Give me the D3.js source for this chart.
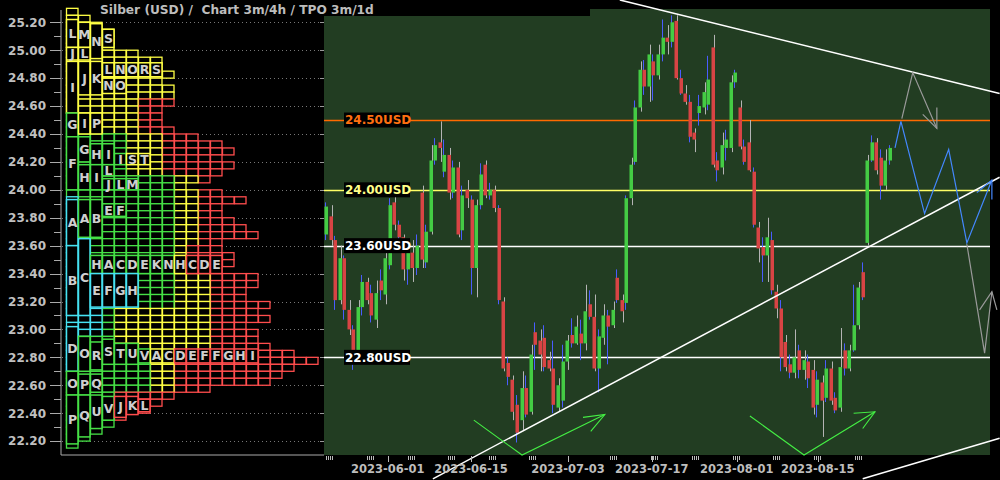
<!DOCTYPE html>
<html><head><meta charset="utf-8">
<script src="https://cdn.jsdelivr.net/npm/d3@7"></script>
<style>body{margin:0;background:#000}svg{display:block}</style>
</head><body><svg id="c" width="1000" height="480"></svg>
<script>
// ---------------- DATA ----------------
const title = "Silber (USD) /  Chart 3m/4h / TPO 3m/1d";

const opens  = [23.68,23.81,23.64,23.21,23.51,23.14,23.00,22.85,23.16,23.34,23.26,23.07,23.35,23.25,23.46,23.91,23.75,23.66,23.43,23.55,23.44,23.98,23.48,23.70,24.21,24.34,24.13,24.25,23.98,24.16,23.71,24.00,23.93,23.44,23.89,24.18,23.96,24.00,23.87,23.20,22.76,22.64,22.46,22.35,22.58,22.41,22.98,22.92,22.94,22.78,22.72,22.44,22.49,22.77,22.96,22.90,22.97,22.90,23.18,23.09,22.72,22.94,23.10,23.03,23.37,23.21,23.19,23.94,24.20,24.59,24.86,24.74,24.92,24.82,24.97,25.09,25.06,25.21,24.80,24.69,24.63,24.41,24.55,24.59,24.61,25.02,24.21,24.16,24.30,24.30,24.77,24.59,24.31,24.34,24.13,23.73,23.59,23.53,23.64,23.27,23.15,22.91,22.75,22.69,22.85,22.71,22.77,22.71,22.46,22.62,22.51,22.72,22.51,22.44,22.85,22.72,22.85,23.03,23.41,23.62,24.21,24.34,24.23,24.03,24.21];
const highs  = [23.91,23.89,23.67,23.60,23.53,23.21,23.03,23.21,23.39,23.37,23.32,23.35,23.43,23.57,23.94,23.96,23.78,23.68,23.60,23.64,23.68,24.03,23.75,24.32,24.37,24.49,24.36,24.30,24.21,24.20,24.03,24.07,23.96,23.93,24.19,24.21,24.05,24.03,23.89,23.23,22.80,22.67,22.53,22.70,22.67,22.89,23.05,23.00,23.03,22.84,22.92,22.65,22.89,22.96,23.08,23.10,23.07,23.32,23.28,23.25,23.00,23.18,23.14,23.20,23.43,23.25,23.96,24.23,24.64,24.92,24.93,25.04,24.97,25.04,25.22,25.18,25.25,25.25,24.86,24.75,24.68,24.44,24.68,24.77,24.96,25.11,24.27,24.41,24.43,24.82,24.86,24.64,24.36,24.50,24.16,23.77,23.66,23.80,23.70,23.32,23.21,22.96,22.82,23.00,22.89,22.85,22.82,22.78,22.70,22.67,22.78,22.77,22.55,23.01,22.90,22.89,23.32,23.34,23.48,24.25,24.39,24.37,24.29,24.29,24.32];
const lows   = [23.64,23.60,23.14,23.18,23.07,22.96,22.71,22.84,23.10,23.18,23.05,23.01,23.21,23.18,23.43,23.71,23.60,23.35,23.32,23.34,23.39,23.44,23.44,23.68,24.18,24.20,24.09,23.93,23.94,23.66,23.64,23.87,23.25,23.23,23.86,23.94,23.93,23.84,23.18,22.70,22.60,22.35,22.19,22.28,22.37,22.39,22.71,22.70,22.70,22.70,22.40,22.41,22.44,22.71,22.87,22.89,22.78,22.85,23.07,22.70,22.55,22.89,22.75,23.01,23.19,23.05,23.14,23.89,24.18,24.56,24.68,24.63,24.64,24.79,24.92,24.97,25.02,24.79,24.68,24.61,24.34,24.27,24.46,24.54,24.57,24.16,24.06,24.11,24.21,24.27,24.73,24.29,24.18,24.13,23.73,23.48,23.34,23.34,23.25,23.08,22.70,22.70,22.65,22.65,22.65,22.64,22.58,22.39,22.37,22.23,22.48,22.46,22.40,22.41,22.67,22.70,22.84,23.00,23.21,23.60,24.20,24.11,23.93,24.00,24.18];
const closes = [23.88,23.64,23.21,23.51,23.14,23.00,22.85,23.16,23.34,23.21,23.10,23.26,23.28,23.51,23.89,23.75,23.66,23.43,23.55,23.44,23.60,23.50,23.70,24.21,24.32,24.30,24.25,23.98,24.16,23.68,23.96,23.94,23.44,23.89,24.11,23.96,24.00,23.87,23.21,22.72,22.66,22.41,22.26,22.58,22.39,22.82,22.89,22.82,22.73,22.72,22.46,22.60,22.77,22.92,22.90,23.02,22.90,23.13,23.09,22.72,22.95,23.10,23.02,23.14,23.21,23.13,23.94,24.18,24.59,24.86,24.74,24.97,24.82,24.97,25.09,25.06,25.20,24.80,24.69,24.63,24.38,24.36,24.60,24.70,24.79,24.18,24.14,24.32,24.36,24.77,24.84,24.31,24.20,24.14,23.75,23.58,23.53,23.66,23.28,23.15,22.80,22.73,22.69,22.80,22.71,22.78,22.65,22.44,22.64,22.49,22.72,22.49,22.42,22.73,22.72,22.85,23.03,23.30,23.23,24.21,24.34,24.14,24.03,24.21,24.30];

const dateLabels   = ["2023-06-01","2023-06-15","2023-07-03","2023-07-17","2023-08-01","2023-08-15"];
const dateLabelIdx = [13.6, 31.9, 53.2, 71.6, 90.3, 108.1];
const tickGroupIdx = [0, 9, 18, 26.8, 35.8, 44.6, 62.4, 71.4, 80.4, 89.5, 98.2, 107.2, 116.3];

const priceTicks = [22.2,22.4,22.6,22.8,23.0,23.2,23.4,23.6,23.8,24.0,24.2,24.4,24.6,24.8,25.0,25.2];

const levelPrices = [24.50, 24.00, 23.60, 22.80];
const levelLabels = ["24.50USD","24.00USD","23.60USD","22.80USD"];
const levelColors = ["#ff6a00","#ffff66","#ffffff","#ffffff"];
const levelText   = ["#ff7010","#ffff88","#ffffff","#ffffff"];

// TPO profile rows (row low price) and number of cells in each row
const tpoRowLow = [25.25,25.20,25.15,25.10,25.05,25.00,24.95,24.90,24.85,24.80,24.75,24.70,24.65,24.60,24.55,24.50,24.45,24.40,24.35,24.30,24.25,24.20,24.15,24.10,24.05,24.00,23.95,23.90,23.85,23.80,23.75,23.70,23.65,23.60,23.55,23.50,23.45,23.40,23.35,23.30,23.25,23.20,23.15,23.10,23.05,23.00,22.95,22.90,22.85,22.80,22.75,22.70,22.65,22.60,22.55,22.50,22.45,22.40,22.35,22.30,22.25,22.20,22.15];
const tpoRowCount = [1,2,3,4,4,4,6,8,8,9,8,9,9,9,8,8,8,9,11,13,14,13,14,13,12,10,13,15,13,13,14,15,16,13,13,14,14,13,16,16,15,15,17,16,17,15,16,16,17,19,21,19,18,17,12,9,8,7,5,4,3,2,1];

// colour blocks of the profile: [colFrom, colTo, priceLow, priceHigh, period colour]
const tpoZones = [
 [0,0,22.70,23.93,"cyan"],[1,1,22.95,23.65,"cyan"],[2,2,22.95,23.40,"cyan"],[3,5,23.13,23.40,"cyan"],
 [6,30,24.55,24.65,"red"],[0,30,24.55,25.40,"yellow"],[0,0,23.93,24.55,"green"],
 [1,5,24.40,24.55,"yellow"],[1,4,24.08,24.40,"green"],[5,7,24.08,24.40,"yellow"],
 [0,8,23.93,24.08,"green"],[1,8,23.40,23.93,"green"],[9,9,23.40,23.60,"yellow"],[9,10,23.60,24.08,"yellow"],
 [2,8,23.13,23.40,"green"],[9,11,23.05,23.40,"yellow"],[3,3,22.85,23.13,"green"],[4,11,22.85,23.13,"yellow"],
 [0,0,22.00,22.70,"green"],[1,6,22.55,22.95,"green"],[7,8,22.55,22.85,"yellow"],[1,3,22.00,22.55,"green"]
];

// lettered TPO boxes: [letter, column, priceTop, priceBottom]
const tpoLetters = [
 ["L",0,25.22,25.02],["M",1,25.20,25.02],["N",2,25.19,24.94],["S",3,25.15,25.02],
 ["J",0,25.02,24.93],["L",1,25.02,24.93],
 ["I",0,24.92,24.55],["J",1,24.92,24.68],["K",2,24.92,24.68],
 ["L",3,24.91,24.81],["N",4,24.91,24.81],["O",5,24.91,24.81],["R",6,24.91,24.81],["S",7,24.91,24.81],
 ["N",3,24.80,24.69],["O",4,24.80,24.69],
 ["G",0,24.55,24.38],["I",1,24.55,24.40],["P",2,24.55,24.40],
 ["G",1,24.38,24.20],["H",2,24.33,24.18],["I",3,24.33,24.18],["I",4,24.26,24.18],["S",5,24.26,24.18],["T",6,24.26,24.18],
 ["F",0,24.38,24.00],["H",1,24.18,24.00],["I",2,24.18,24.00],["L",3,24.18,24.10],
 ["J",3,24.08,24.00],["L",4,24.08,24.00],["M",5,24.08,24.00],
 ["A",0,23.93,23.60],["A",1,23.93,23.66],["B",2,23.93,23.66],["E",3,23.90,23.81],["F",4,23.90,23.81],
 ["B",0,23.60,23.10],["C",1,23.65,23.10],
 ["H",2,23.53,23.40],["A",3,23.53,23.40],["C",4,23.53,23.40],["D",5,23.53,23.40],["E",6,23.53,23.40],["K",7,23.53,23.40],["N",8,23.53,23.40],["H",9,23.53,23.40],["C",10,23.53,23.40],["D",11,23.53,23.40],["E",12,23.53,23.40],
 ["E",2,23.40,23.16],["F",3,23.40,23.16],["G",4,23.40,23.16],["H",5,23.40,23.16],
 ["D",0,23.02,22.70],["O",1,22.95,22.70],["R",2,22.91,22.71],["S",3,22.93,22.75],["T",4,22.90,22.75],["U",5,22.90,22.75],
 ["V",6,22.86,22.76],["A",7,22.86,22.76],["C",8,22.86,22.76],["D",9,22.86,22.76],["E",10,22.86,22.76],["F",11,22.86,22.76],["F",12,22.86,22.76],["G",13,22.86,22.76],["H",14,22.86,22.76],["I",15,22.86,22.76],
 ["O",0,22.70,22.53],["P",1,22.68,22.53],["Q",2,22.68,22.55],
 ["P",0,22.53,22.18],["Q",1,22.53,22.23],["U",2,22.53,22.29],["V",3,22.52,22.35],
 ["J",4,22.52,22.37],["K",5,22.52,22.39],["L",6,22.50,22.41]
];

// drawn annotations in (candle index, price)
const trendUpper  = [[64.6,25.36],[148.1,24.69]];
const trendLower  = [[23.5,21.93],[148.1,24.09]];
const trendBottom = [[118.0,21.93],[148.1,22.22]];
const blueZig   = [[125.1,24.30],[126.4,24.49],[131.6,23.83],[136.9,24.29],[140.9,23.62],[146.4,24.07]];
const blueHead  = [[143.1,23.98],[146.4,24.07],[146.4,23.93]];
const grayZigTop  = [[126.6,24.51],[129.0,24.84],[134.3,24.44]];
const grayHeadTop = [[131.2,24.54],[134.3,24.44],[134.3,24.59]];
const grayZigLow  = [[140.9,23.61],[144.8,22.83],[146.4,23.27]];
const grayHeadLow = [[143.7,23.14],[146.4,23.27],[147.5,23.14]];
const greenLeft      = [[32.5,22.35],[43.1,22.10],[61.3,22.39]];
const greenLeftHead  = [[56.5,22.37],[61.3,22.39],[58.2,22.27]];
const greenRight     = [[93.2,22.38],[105.1,22.10],[120.7,22.41]];
const greenRightHead = [[116.0,22.40],[120.7,22.41],[118.0,22.29]];

// ---------------- DRAW ----------------
const svg = d3.select("#c");
const FONT = "DejaVu Sans, sans-serif";
const colorMap = {yellow:"#ffff44", green:"#46e046", cyan:"#46e2f2", red:"#ff4d4d"};

const y = d3.scaleLinear().domain([22.2, 25.2]).range([441.1, 22.3]);
const x = d3.scaleLinear().domain([0, closes.length - 1]).range([326, 890]);
const tx = d3.scaleLinear().domain([0, 1]).range([66, 78]);

svg.append("rect").attr("width",1000).attr("height",480).attr("fill","#000");

// candle panel
svg.append("rect").attr("x",324).attr("y",9).attr("width",666).attr("height",446).attr("fill","#223d22");
svg.append("rect").attr("x",0).attr("y",0).attr("width",590).attr("height",16).attr("fill","#000");
svg.append("text").attr("x",100).attr("y",14).attr("fill","#bdbdbd").attr("font-family",FONT)
  .attr("font-weight","bold").attr("font-size",12.2).style("white-space","pre").text(title);

// left axis
const gAxis = svg.append("g");
gAxis.append("line").attr("x1",61).attr("x2",61).attr("y1",10).attr("y2",455).attr("stroke","#aaa").attr("stroke-width",1);
gAxis.append("line").attr("x1",61).attr("x2",324).attr("y1",455).attr("y2",455).attr("stroke","#aaa").attr("stroke-width",1);
priceTicks.forEach(p => {
  gAxis.append("line").attr("x1",50).attr("x2",61).attr("y1",Math.round(y(p))+0.5).attr("y2",Math.round(y(p))+0.5).attr("stroke","#aaa");
  gAxis.append("line").attr("x1",62).attr("x2",324).attr("y1",Math.round(y(p))+0.5).attr("y2",Math.round(y(p))+0.5)
     .attr("stroke","#777").attr("stroke-dasharray","1,3");
  gAxis.append("line").attr("x1",320).attr("x2",324).attr("y1",Math.round(y(p))+0.5).attr("y2",Math.round(y(p))+0.5).attr("stroke","#999");
  gAxis.append("text").attr("x",46).attr("y",y(p)).attr("dy","0.36em").attr("text-anchor","end")
     .attr("fill","#c0c0c0").attr("font-family",FONT).attr("font-weight","bold").attr("font-size",12).text(p.toFixed(2));
  const pm = p + 0.1;
  if (pm < 25.3) gAxis.append("line").attr("x1",54).attr("x2",61).attr("y1",Math.round(y(pm))+0.5).attr("y2",Math.round(y(pm))+0.5).attr("stroke","#aaa");
});

// TPO cells
function zoneColor(c, p){
  for (const z of tpoZones){ if (c>=z[0] && c<=z[1] && p>=z[2] && p<z[3]) return colorMap[z[4]]; }
  return colorMap.red;
}
const gT = svg.append("g");
tpoRowLow.forEach((lo, i) => {
  const n = tpoRowCount[i];
  for (let c = n-1; c >= 0; c--) {
    gT.append("rect").attr("x",tx(c)+0.5).attr("y",y(lo+0.05)).attr("width",11.5).attr("height",y(lo)-y(lo+0.05))
      .attr("fill","#000").attr("stroke",zoneColor(c, lo+0.025)).attr("stroke-width",1.3);
  }
});
tpoLetters.forEach(d => {
  const [t, c, pt, pb] = d;
  const col = zoneColor(c, (pt+pb)/2);
  gT.append("rect").attr("x",tx(c)+0.5).attr("y",y(pt)).attr("width",11.5).attr("height",y(pb)-y(pt))
    .attr("fill","#000").attr("stroke",col).attr("stroke-width",1.5);
  gT.append("text").attr("x",tx(c)+6.5).attr("y",(y(pt)+y(pb))/2).attr("dy","0.36em").attr("text-anchor","middle")
    .attr("fill","#cfcfcf").attr("font-family",FONT).attr("font-weight","bold").attr("font-size",12.5).text(t);
});

// level lines
levelPrices.forEach((p,i) => {
  svg.append("line").attr("x1",324).attr("x2",990).attr("y1",Math.round(y(p))+0.5).attr("y2",Math.round(y(p))+0.5)
    .attr("stroke",levelColors[i]).attr("stroke-width",1.3);
});

// candles
const gC = svg.append("g");
closes.forEach((c,i) => {
  const xi = x(i);
  const wx = i % 2 === 0 ? xi - 1 : xi + 1;
  gC.append("line").attr("x1",Math.round(wx)+0.5).attr("x2",Math.round(wx)+0.5).attr("y1",y(highs[i])).attr("y2",y(lows[i]))
    .attr("stroke", i % 2 === 0 ? "#4a5cff" : "#b4b4b4").attr("stroke-width",1);
});
closes.forEach((c,i) => {
  const o = opens[i];
  const up = c >= o;
  const top = y(Math.max(o,c)), bot = y(Math.min(o,c));
  gC.append("rect").attr("x",Math.round(x(i))-1.5).attr("y",top).attr("width",3.5).attr("height",Math.max(1.5,bot-top))
    .attr("fill", up ? "#44cc44" : "#d84444");
});

// level labels
levelPrices.forEach((p,i) => {
  svg.append("rect").attr("x",344).attr("y",y(p)-7.5).attr("width",66).attr("height",15).attr("fill","#000");
  svg.append("text").attr("x",345).attr("y",y(p)).attr("dy","0.37em").attr("fill",levelText[i])
    .attr("font-family",FONT).attr("font-weight","bold").attr("font-size",12).text(levelLabels[i]);
});

// annotations
const line = d3.line().x(d => x(d[0])).y(d => y(d[1]));
function path(pts, col, w){ svg.append("path").attr("d",line(pts)).attr("fill","none").attr("stroke",col).attr("stroke-width",w); }
path(trendUpper,"#ffffff",1.5); path(trendLower,"#ffffff",1.5); path(trendBottom,"#ffffff",1.5);
path(blueZig,"#4488ff",1.2); path(blueHead,"#4488ff",1.2);
path(grayZigTop,"#9a9a9a",1.2); path(grayHeadTop,"#9a9a9a",1.2);
path(grayZigLow,"#9a9a9a",1.2); path(grayHeadLow,"#9a9a9a",1.2);
path(greenLeft,"#44ee44",1.1); path(greenLeftHead,"#44ee44",1.1);
path(greenRight,"#44ee44",1.1); path(greenRightHead,"#44ee44",1.1);

// bottom axis
const gX = svg.append("g");
tickGroupIdx.forEach(g => {
  for (let k = 0; k < 4; k++) {
    const xx = Math.round(x(g)) + k*2 + 0.5;
    gX.append("line").attr("x1",xx).attr("x2",xx).attr("y1",456).attr("y2",460).attr("stroke","#bbb");
  }
});
dateLabels.forEach((t,i) => {
  const xx = Math.round(x(dateLabelIdx[i])) + 0.5;
  gX.append("line").attr("x1",xx).attr("x2",xx).attr("y1",456).attr("y2",462).attr("stroke","#bbb");
  gX.append("text").attr("x",x(dateLabelIdx[i])).attr("y",473).attr("text-anchor","middle").attr("fill","#bdbdbd")
    .attr("font-family",FONT).attr("font-weight","bold").attr("font-size",11.5).text(t);
});
</script></body></html>
